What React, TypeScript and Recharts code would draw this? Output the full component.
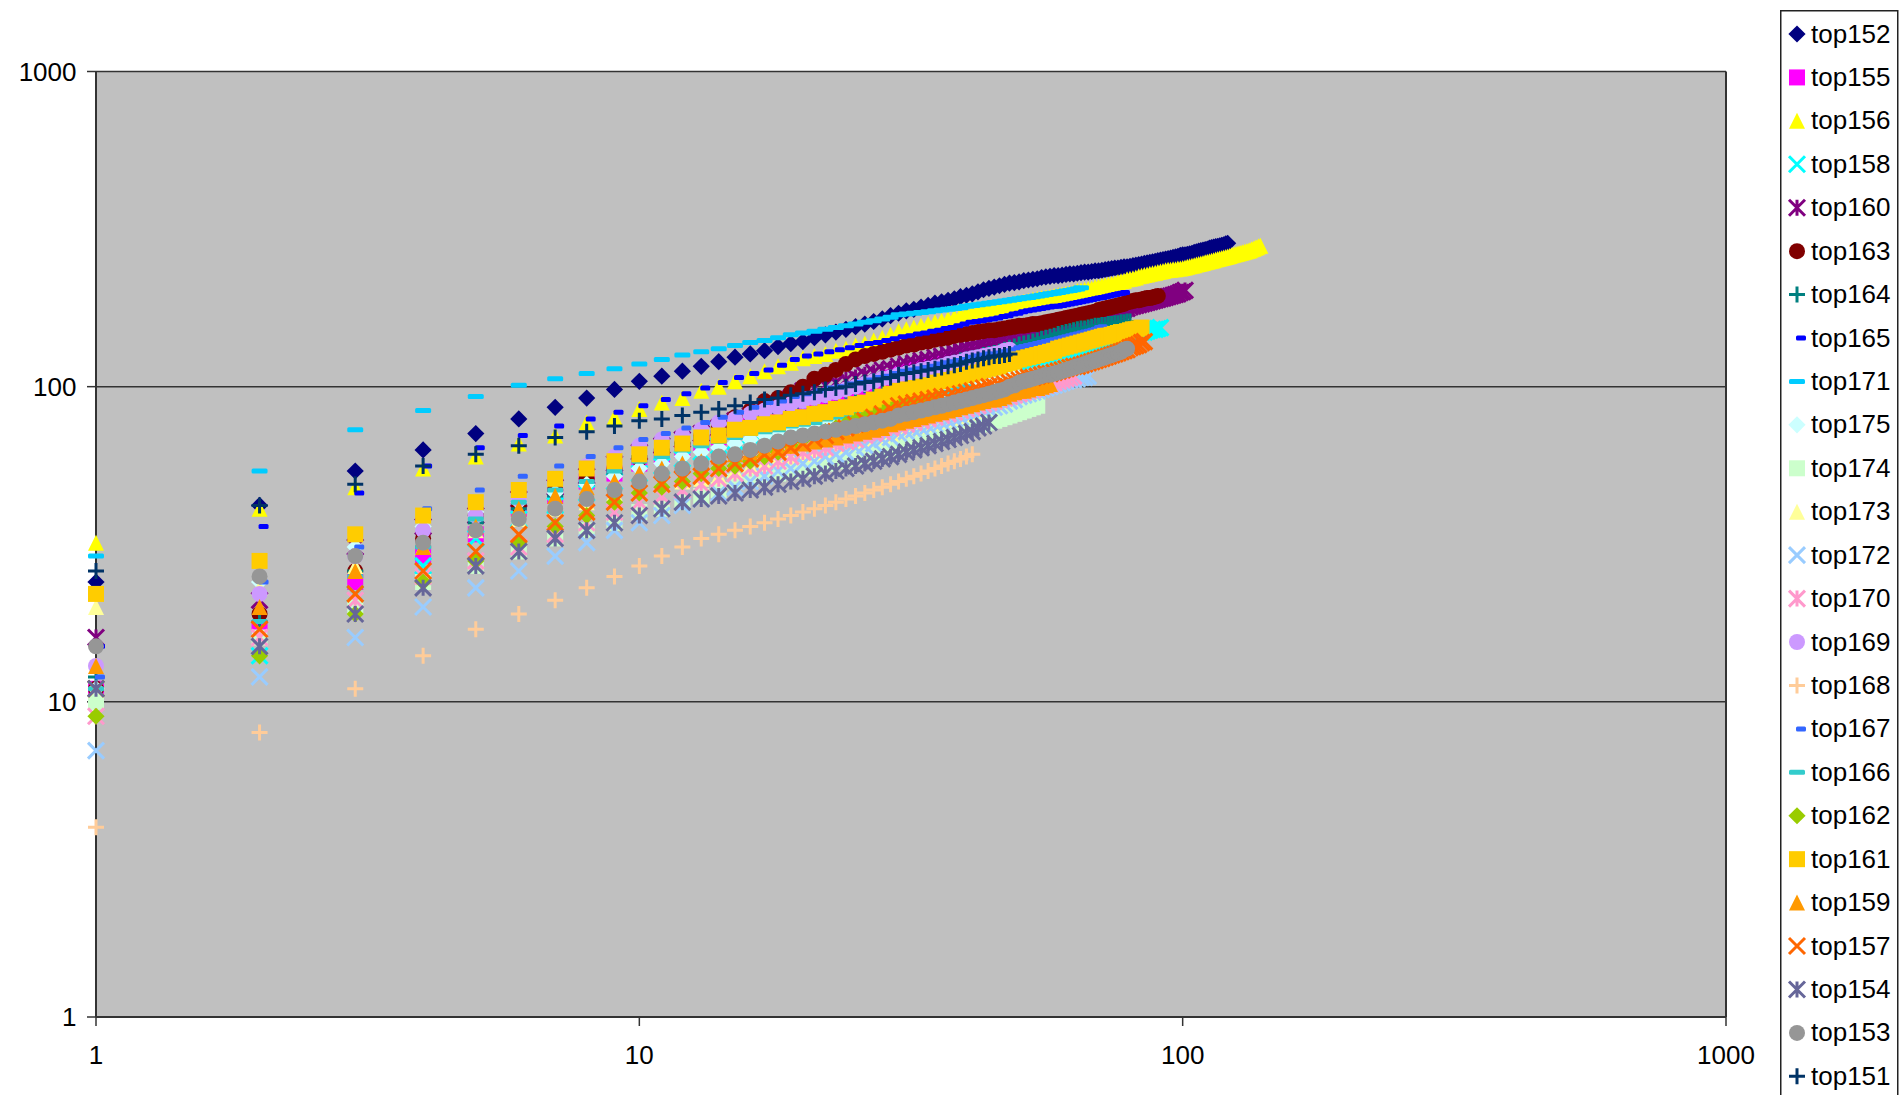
import React from "react";
import { ScatterChart, Scatter, XAxis, YAxis, CartesianGrid, Legend, ReferenceLine } from "recharts";

const tickValues = [1, 10, 100, 1000];

const top152 = [24,42,54,63,71,79,86,92,98,104,108,112,116,120,124,127,130,134,137,139,143,146,149,152,155,158,161,164,168,171,174,176,179,181,184,186,188,190,193,195,197,200,203,205,207,209,211,213,214,215,217,218,219,220,222,223,224,225,225,226,227,228,228,229,230,231,231,232,233,233,234,235,236,237,238,238,239,240,240,241,242,243,244,245,246,247,248,249,250,251,252,253,254,255,256,257,258,259,261,262,262,263,264,265,267,268,269,270,271,272,273,275,276,277,278,279,280,281,282,284,285];
const top155 = [11,17,24,29,34,41,45,50,53,57,60,63,66,69,72,75,78,80,83,85,88,90,92,94,96,98,101,104,107,110,112,114,116,117,119,120,122,123,125,126,127,128,129,130,131,131,132,133,134,135,136,137,138,139,140,141,142,143,145,146,147,148,149,150,151,152,152,153];
const top156 = [32,41,48,55,60,66,70,77,80,85,89,92,97,100,104,108,112,116,119,123,125,127,130,132,135,137,140,143,146,150,152,154,156,158,160,162,164,166,169,171,172,174,175,177,178,179,181,182,184,185,186,187,189,190,191,192,193,194,195,196,197,198,199,201,202,203,204,205,207,208,209,210,211,212,213,215,216,217,219,220,221,222,224,225,226,227,228,229,230,231,232,233,234,235,235,236,236,237,237,238,239,240,241,242,243,244,245,246,247,248,249,250,251,252,253,254,255,256,257,258,259,260,261,262,263,264,265,266,267,268,269,270,271,273,274,276,277,279,280];
const top158 = [11,14,22,27,33,38,42,46,50,53,56,59,62,65,67,70,72,73,75,76,77,79,81,83,84,86,88,90,92,93,95,96,98,99,101,102,103,104,106,107,108,109,110,111,112,113,114,115,117,118,119,120,121,122,123,124,125,126,127,128,129,130,131,132,133,134,135,136,137,138,139,140,140,141,142,143,144,144,145,146,147,147,148,149,149,150,151,152,152,153,154];
const top160 = [16,21,31,36,39,44,48,52,57,62,65,68,71,74,78,81,84,88,92,97,99,101,103,105,107,109,111,113,114,116,118,119,121,122,124,125,127,129,131,133,134,135,137,138,139,140,142,143,145,146,147,148,149,150,151,152,153,154,155,156,157,158,159,160,161,162,163,164,165,167,168,169,170,171,172,173,175,176,177,179,180,181,182,183,184,185,186,187,188,189,190,191,192,193,194,195,196,197,199,200,202];
const top163 = [11,19,26,33,39,42,47,51,55,59,62,66,70,74,80,84,90,92,96,100,106,109,113,118,122,125,127,129,131,133,135,136,138,139,141,142,143,145,146,147,148,149,150,151,151,152,153,154,155,156,156,157,158,158,159,160,161,162,163,164,165,166,167,168,169,170,171,172,173,175,176,177,178,179,180,181,182,183,185,186,187,188,188,189,190,191,191,192,193,194];
const top164 = [12,18,26,31,37,41,45,49,53,60,63,66,69,72,75,77,80,83,86,90,92,94,96,97,99,101,102,104,106,108,109,111,112,114,115,116,118,119,121,122,123,124,126,127,128,129,131,133,134,136,137,138,139,140,142,143,144,145,147,148,149,150,151,152,153,153,154,155,156,156,157,157,158,158,159,159,160,160,161,161];
const top165 = [15,36,46,56,64,70,75,79,83,87,91,95,99,103,107,110,113,117,122,125,127,129,131,133,135,137,138,140,142,144,145,147,148,150,151,153,154,156,158,160,161,162,163,164,165,167,168,170,171,173,174,175,176,177,178,179,180,180,181,182,183,184,185,186,187,188,189,190,191,192,193,194,195,196,197,198,199];
const top171 = [29,54,73,84,93,101,106,110,114,118,122,126,129,132,135,138,140,143,146,148,150,152,154,156,158,160,162,164,166,169,170,171,172,173,174,175,176,177,178,180,181,182,183,184,185,186,187,188,189,190,191,192,193,194,195,196,197,198,199,200,201,202,203,204,206];
const top175 = [11,24,31,36,40,43,46,49,52,55,57,60,62,64,66,68,70,72,73,75,76,77,79,80,81,83,84,85,87,88,89,90,91,92,93,94,96,97,98,99,100,101,102,103,104,105,105,106,107,108];
const top174 = [10,16,20,24,27,30,33,35,37,40,41,43,45,47,50,51,52,53,54,55,56,57,58,59,60,61,62,63,64,65,66,67,68,68,69,70,71,72,73,74,75,76,76,77,78,79,80,81,82,83,84,85,86,87];
const top173 = [20,23,27,31,35,38,41,43,46,48,49,50,51,52,54,56,57,59,60,61,62,63,65,66,67,68,69,70,71,72,73,74,75,76,77,78,79,80,81,82,83,84];
const top172 = [7,12,16,20,23,26,29,32,35,37,39,42,44,46,48,50,52,54,55,57,58,60,61,62,64,65,66,68,69,71,72,73,74,75,76,77,78,79,80,81,82,83,84,85,86,87,88,90,91,93,94,95,96,97,98,99,100,101,102,103,104,105,105,106,107,107,108];
const top170 = [9,16,21,25,28,31,34,37,40,43,45,47,49,51,53,55,56,58,60,62,63,64,66,67,68,70,71,72,74,75,76,77,78,79,80,81,82,83,84,85,86,87,88,89,90,91,92,93,94,95,96,97,98,99,100,101,102,103,104,105,106,107,108];
const top169 = [13,22,29,35,39,44,51,56,60,65,68,70,73,77,79,82,84,86,88,90,92,94,96,98,100,102,104,106,107,109,110,111,113,114,115,116,118,119,120,122,123,124,125,126,127,128,130,131];
const top168 = [4,8,11,14,17,19,21,23,25,27,29,31,33,34,35,36,37,38,39,40,41,42,43,44,45,46,47,48,49,50,51,52,53,54,55,56,57,58,59,60,61];
const top167 = [12,24,31,41,47,52,56,60,64,68,71,74,77,80,83,86,89,90,93,95,97,99,100,102,103,105,107,108,110,112,113,114,115,116,118,119,120,121,122,124,125,126,127,127,128,129,130,131,133,134,135,136,137,138,139,140,141,142,143,144,145,146,147,148,149,150,151,152,154,155];
const top166 = [11,18,25,31,38,43,47,50,54,58,60,63,65,67,69,71,72,73,75,76,77,79,80,81,83,84,85,86,87,88,90,91,92,93,94,95,96,97,99,100];
const top162 = [9,14,19,24,28,32,36,39,43,46,48,50,53,55,56,58,60,62,65,68,70,72,74,76,78,80,82,84,86,88,89,90,92,93,94];
const top161 = [22,28,34,39,43,47,51,55,58,61,64,66,69,70,73,74,76,77,79,80,82,83,85,86,88,89,91,93,95,97,98,99,100,101,103,104,105,106,108,109,110,111,113,114,115,116,118,119,120,122,123,124,125,126,127,128,129,130,132,133,134,135,136,137,138,139,140,141,142,143,144,145,145,146,147,148,149,149,150,151,152,152,153,154];
const top159 = [13,20,26,31,36,41,45,48,50,53,55,57,58,60,61,62,63,64,65,66,67,68,69,70,71,72,73,74,76,77,78,79,80,81,82,83,84,85,86,87,88,89,90,91,91,92,93,95,96,97,97,98,99,99,100,101,102];
const top157 = [11,17,22,26,30,34,37,40,43,46,49,51,52,55,57,59,61,62,64,66,68,70,72,74,76,78,80,82,85,87,88,89,90,91,92,93,93,94,95,96,97,98,99,100,100,101,102,103,104,105,106,107,107,108,109,110,110,111,112,113,114,115,116,116,117,118,119,120,121,122,123,124,125,126,127,128,129,130,131,133,134,135,136,138,139];
const top154 = [11,15,19,23,27,30,33,35,37,39,41,43,44,45,46,47,48,49,50,51,52,53,54,55,56,57,58,59,60,61,62,63,64,65,66,67,68,69,70,71,72,74,75,77];
const top153 = [15,25,29,32,35,38,41,44,47,50,53,55,57,60,61,63,65,67,69,70,71,72,73,74,75,76,77,78,79,81,82,83,84,85,86,87,88,89,90,91,92,93,94,95,96,97,98,100,101,103,104,105,106,107,108,109,109,110,111,112,113,114,115,116,117,118,119,120,121,122,123,124,125,126,127,128,129,131,132];
const top151 = [26,42,49,56,61,65,69,72,75,78,79,81,83,85,87,89,91,92,94,95,96,98,99,100,102,103,104,106,107,109,110,111,112,113,114,115,116,117,118,120,121,122,123,124,125,125,126,127];

const names = ["top152","top155","top156","top158","top160","top163","top164","top165","top171","top175","top174","top173","top172","top170","top169","top168","top167","top166","top162","top161","top159","top157","top154","top153","top151"];
const values = [top152,top155,top156,top158,top160,top163,top164,top165,top171,top175,top174,top173,top172,top170,top169,top168,top167,top166,top162,top161,top159,top157,top154,top153,top151];
const colors = ["#000080","#FF00FF","#FFFF00","#00FFFF","#800080","#800000","#008080","#0000FF","#00CCFF","#CCFFFF","#CCFFCC","#FFFF99","#99CCFF","#FF99CC","#CC99FF","#FFCC99","#3366FF","#33CCCC","#99CC00","#FFCC00","#FF9900","#FF6600","#666699","#969696","#003366"];
const kinds = ["diamond","square","triangle","x","star","circle","plus","short","long"];

const FONT = "'Liberation Sans', Arial, sans-serif";

function marker(kind: string, cx: number, cy: number, color: string) {
  const r = 8;
  const d = 8.6;
  const sw = 3;
  switch (kind) {
    case "diamond":
      return <polygon points={`${cx},${cy - d} ${cx + d},${cy} ${cx},${cy + d} ${cx - d},${cy}`} fill={color} />;
    case "square":
      return <rect x={cx - r} y={cy - r} width={2 * r} height={2 * r} fill={color} />;
    case "triangle":
      return <polygon points={`${cx},${cy - r} ${cx + r},${cy + r} ${cx - r},${cy + r}`} fill={color} />;
    case "x":
      return <path d={`M${cx - r} ${cy - r}L${cx + r} ${cy + r}M${cx + r} ${cy - r}L${cx - r} ${cy + r}`} stroke={color} strokeWidth={sw} fill="none" />;
    case "star":
      return <path d={`M${cx - r} ${cy - r}L${cx + r} ${cy + r}M${cx + r} ${cy - r}L${cx - r} ${cy + r}M${cx} ${cy - r}L${cx} ${cy + r}`} stroke={color} strokeWidth={sw} fill="none" />;
    case "circle":
      return <circle cx={cx} cy={cy} r={r} fill={color} />;
    case "plus":
      return <path d={`M${cx - r} ${cy}L${cx + r} ${cy}M${cx} ${cy - r}L${cx} ${cy + r}`} stroke={color} strokeWidth={sw} fill="none" />;
    case "short":
      return <rect x={cx - 1} y={cy - 2.5} width={10} height={5} rx={1.5} fill={color} />;
    default:
      return <rect x={cx - r} y={cy - 2.5} width={2 * r} height={5} rx={1.5} fill={color} />;
  }
}

const ROW = 43.43;

function LegendBox() {
  return (
    <svg width={120} height={1090} style={{ display: "block" }}>
      <rect x={0.75} y={0.75} width={117} height={1200} fill="#fff" stroke="#222" strokeWidth={1.5} />
      {names.map((n, i) => {
        const cy = 24 + i * ROW;
        return (
          <g key={n}>
            {marker(kinds[i % kinds.length], 17, cy, colors[i])}
            <text x={31} y={cy + 8.5} fontFamily={FONT} fontSize={26} fill="#000">{n}</text>
          </g>
        );
      })}
    </svg>
  );
}

export default function App() {
  return (
    <div style={{ position: "absolute", left: 0, top: 0, width: 1901, height: 1095, overflow: "hidden", background: "#fff" }}>
      <ScatterChart width={1901} height={1095} margin={{ top: 71.5, right: 175, bottom: 0, left: 0 }}>
        <CartesianGrid fill="#C0C0C0" stroke="#333" strokeWidth={1.5} vertical={false} />
        <XAxis type="number" dataKey="x" scale="log" domain={[1, 1000]} ticks={tickValues} height={78}
          axisLine={{ stroke: "#333", strokeWidth: 2 }} tickLine={{ stroke: "#333", strokeWidth: 1.5 }} tickSize={9} tickMargin={20}
          tick={{ fontFamily: FONT, fontSize: 26, fill: "#000" }} interval={0} />
        <YAxis type="number" dataKey="y" scale="log" domain={[1, 1000]} ticks={tickValues} width={96}
          axisLine={{ stroke: "#333", strokeWidth: 2 }} tickLine={{ stroke: "#333", strokeWidth: 1.5 }} tickSize={9} tickMargin={10.5}
          tick={{ fontFamily: FONT, fontSize: 26, fill: "#000" }} interval={0} />
        <ReferenceLine x={1000} stroke="#333" strokeWidth={2} />
        <Legend layout="vertical" align="center" verticalAlign="middle" content={() => <LegendBox />}
          wrapperStyle={{ position: "absolute", left: 1780, top: 10, width: 120, height: 1090, margin: 0 }} />
        {names.map((n, i) => (
          <Scatter key={n} name={n} data={values[i].map((y, k) => ({ x: k + 1, y }))} isAnimationActive={false}
            shape={(p: any) => marker(kinds[i % kinds.length], p.cx, p.cy, colors[i])} />
        ))}
      </ScatterChart>
    </div>
  );
}
